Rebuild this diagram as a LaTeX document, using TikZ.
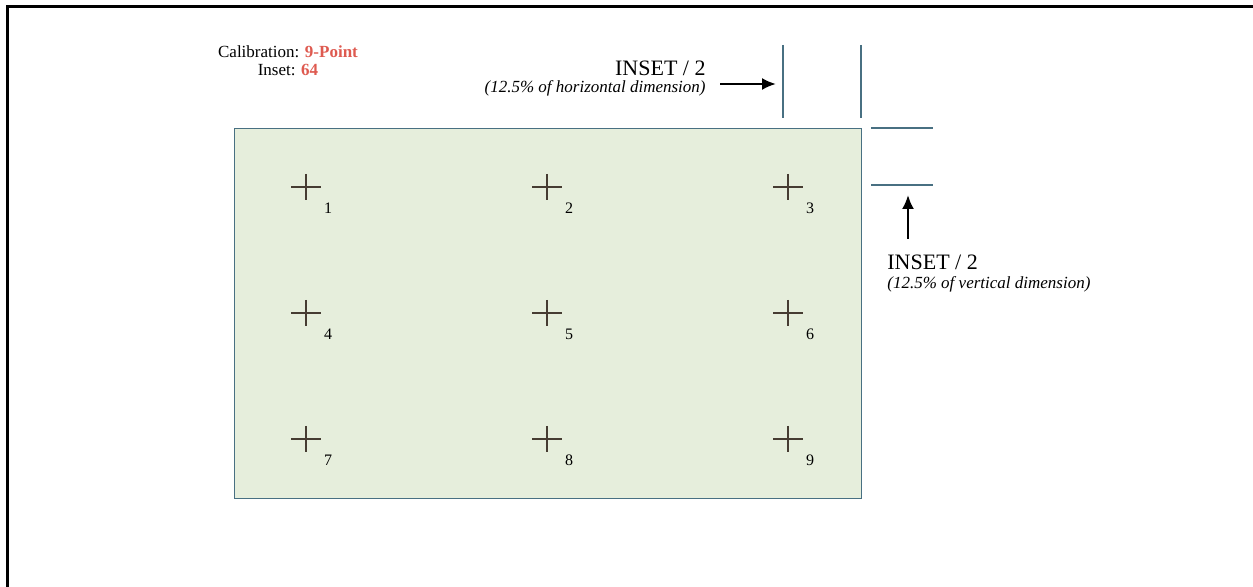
\documentclass[tikz,border=0pt]{standalone}
\usepackage{fontspec}
\setmainfont{Liberation Serif}
\usetikzlibrary{positioning,arrows.meta}
\definecolor{padgreen}{RGB}{230,238,220}
\definecolor{edgeblue}{RGB}{72,112,130}
\definecolor{calred}{RGB}{222,90,80}
\definecolor{crossink}{RGB}{70,60,50}
\tikzstyle{pad} = [draw=edgeblue, fill=padgreen, line width=0.7pt, inner sep=0pt]
\tikzstyle{crossline} = [draw=crossink, line width=0.6pt]
\tikzstyle{target} = [font=\fontsize{8}{9}\selectfont, inner sep=0pt]
\tikzstyle{dimline} = [draw=edgeblue, line width=0.7pt]
\tikzstyle{note} = [font=\fontsize{11}{12}\selectfont, inner sep=0pt]
\tikzstyle{subnote} = [font=\fontsize{8.5}{10}\selectfont\itshape, inner sep=0pt]
\tikzstyle{pointer} = [->, >={Latex[length=7pt,width=6pt]}, line width=1.1pt]

\begin{document}
\begin{tikzpicture}[x=0.5pt,y=-0.5pt]
        \useasboundingbox (0,0) rectangle (1253,587);
        \draw[line width=1.5pt] (7,587) -- (7,7) -- (1253,7);
        % calibration area
        \node[pad, anchor=north west, minimum width=313.5pt, minimum height=185pt](screen) at (234,128){};
        \foreach \n/\x/\y in {1/306/187, 2/547/187, 3/788/187, 4/306/313, 5/547/313, 6/788/313, 7/306/439, 8/547/439, 9/788/439}{
          \draw[crossline] (\x-15,\y) -- (\x+15,\y) (\x,\y-13) -- (\x,\y+13);
          \node[target](t\n) at (\x+22,\y+21){\n};
        }
        % settings
        \node[font=\fontsize{8.5}{9}\selectfont, align=center, inner sep=0pt](calib) at (288,61){Calibration: \textcolor{calred}{\textbf{9-Point}}\\Inset: \textcolor{calred}{\textbf{64}}};
        % horizontal inset
        \coordinate (ha1) at (783,45);
        \coordinate (ha2) at (783,118);
        \coordinate (hb1) at (861,45);
        \coordinate (hb2) at (861,118);
        \draw[dimline] (ha1) -- (ha2);
        \draw[dimline] (hb1) -- (hb2);
        \node[note, anchor=east](htitle) at (706,68){INSET / 2};
        \node[subnote, anchor=east](hsub) at (706,88){(12.5\% of horizontal dimension)};
        \coordinate (htail) at (720,84);
        \coordinate (hhead) at (776,84);
        \draw[pointer] (htail) -- (hhead);
        % vertical inset
        \coordinate (va1) at (871,128);
        \coordinate (va2) at (933,128);
        \coordinate (vb1) at (871,185);
        \coordinate (vb2) at (933,185);
        \draw[dimline] (va1) -- (va2);
        \draw[dimline] (vb1) -- (vb2);
        \node[note, anchor=west](vtitle) at (887,262){INSET / 2};
        \node[subnote, anchor=west](vsub) at (887,284){(12.5\% of vertical dimension)};
        \coordinate (vtail) at (908,239);
        \coordinate (vhead) at (908,195);
        \draw[pointer] (vtail) -- (vhead);
      \end{tikzpicture}
\end{document}
